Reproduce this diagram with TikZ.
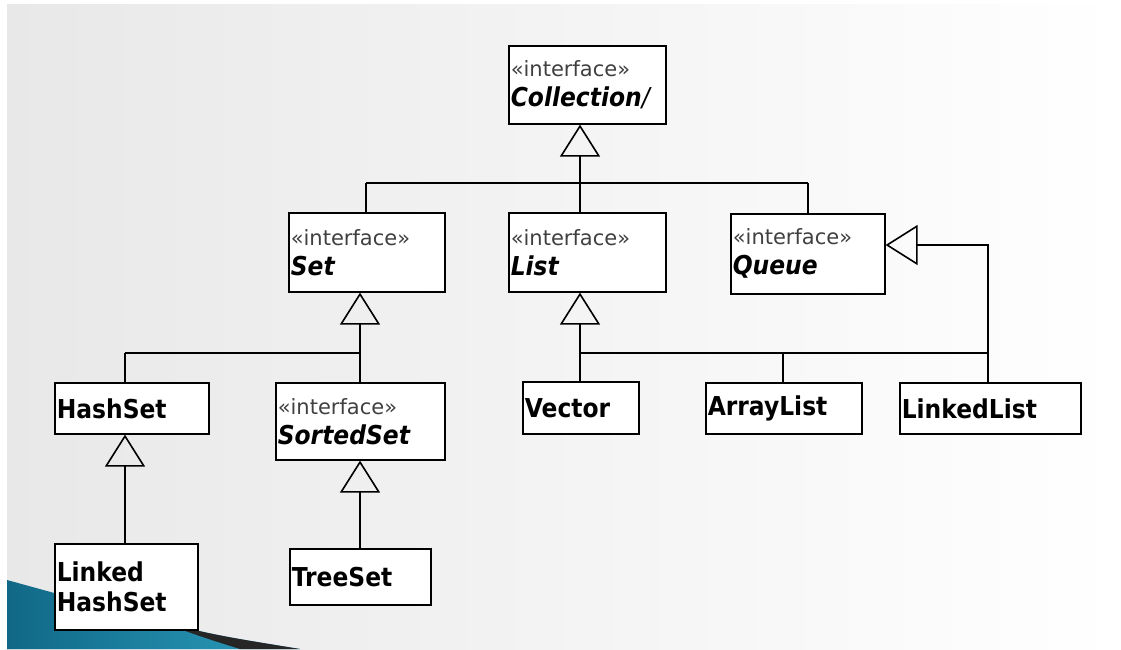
\documentclass[tikz,border=0pt]{standalone}
\usepackage{fontspec}
\setmainfont{DejaVu Sans}[FakeStretch=0.9]
\newfontfamily\stereofont{DejaVu Sans}
\usetikzlibrary{arrows.meta}

\definecolor{tealdark}{RGB}{16,104,134}
\definecolor{teallight}{RGB}{44,158,190}

\newcommand{\stereo}{{\stereofont\mdseries\upshape\fontsize{21}{30}\selectfont\color{black!75}«interface»}}

\tikzset{
  cls/.style={draw, line width=1.6pt, fill=white, anchor=north west,
    inner xsep=2pt, inner ysep=0pt, align=left,
    font=\fontsize{26}{30}\selectfont\bfseries},
  link/.style={draw, line width=1.6pt},
  inherit/.style={link, -{Triangle[open,length=32pt,width=40pt]}}
}

\begin{document}
\begin{tikzpicture}[x=1pt,y=-1pt]
\useasboundingbox (0,0) rectangle (1121,649);
% background and corner
\fill[white] (0,0) rectangle (1121,649);
\shade[left color=black!9,right color=white] (7,4) rectangle (1121,649);
\shade[left color=tealdark,right color=teallight] (7,580) -- (160,622) .. controls (220,636) .. (300,649) -- (7,649) -- cycle;
\fill[black!85] (160,622) .. controls (220,636) .. (300,649) -- (240,649) .. controls (205,638) .. (160,622) -- cycle;

% classes
\node(collection) at (508,45)[cls,text width=153pt,minimum height=78pt]    {\stereo\\\textit{Collection}{\mdseries\itshape /}};
\node(set) at (288,212)[cls,text width=152pt,minimum height=79pt]          {\stereo\\\textit{Set}};
\node(list) at (508,212)[cls,text width=153pt,minimum height=79pt]         {\stereo\\\textit{List}};
\node(queue) at (730,213)[cls,text width=150pt,minimum height=80pt]        {\stereo\\\textit{Queue}};
\node(hashset) at (54,382)[cls,text width=150pt,minimum height=51pt]       {HashSet};
\node(sortedset) at (275,382)[cls,text width=165pt,minimum height=77pt]    {\stereo\\\textit{SortedSet}};
\node(vector) at (522,381)[cls,text width=112pt,minimum height=52pt]       {Vector};
\node(arraylist) at (705,382)[cls,text width=152pt,minimum height=51pt]    {ArrayList};
\node(linkedlist) at (899,382)[cls,text width=177pt,minimum height=51pt]   {LinkedList};
\node(linkedhashset) at (54,543)[cls,text width=139pt,minimum height=86pt] {Linked\\HashSet};
\node(treeset) at (289,548)[cls,text width=137pt,minimum height=56pt]      {TreeSet};

% joints
\coordinate (top) at (580,183);
\coordinate (topl) at (366,183);
\coordinate (topr) at (808,183);
\coordinate (setj) at (360,353);
\coordinate (hashj) at (125,353);
\coordinate (listj) at (580,353);
\coordinate (arrj) at (783,353);
\coordinate (llj) at (988,353);
\coordinate (qturn) at (988,245);

% connectors
\draw[link] (topl) -- (topr);
\draw[link] (topl) -- (set.north -| topl);
\draw[link] (top) -- (list.north -| top);
\draw[link] (topr) -- (queue.north -| topr);
\draw[inherit] (top) -- (collection.south -| top);
\draw[link] (hashj) -- (setj) -- (sortedset.north -| setj);
\draw[link] (hashj) -- (hashset.north -| hashj);
\draw[inherit] (setj) -- (set.south -| setj);
\draw[link] (listj) -- (llj) -- (linkedlist.north -| llj);
\draw[link] (listj) -- (vector.north -| listj);
\draw[link] (arrj) -- (arraylist.north -| arrj);
\draw[inherit] (listj) -- (list.south -| listj);
\draw[inherit] (llj) -- (qturn) -- (queue.east |- qturn);
\draw[inherit] (linkedhashset.north -| hashj) -- (hashset.south -| hashj);
\draw[inherit] (treeset.north -| setj) -- (sortedset.south -| setj);
\end{tikzpicture}
\end{document}
